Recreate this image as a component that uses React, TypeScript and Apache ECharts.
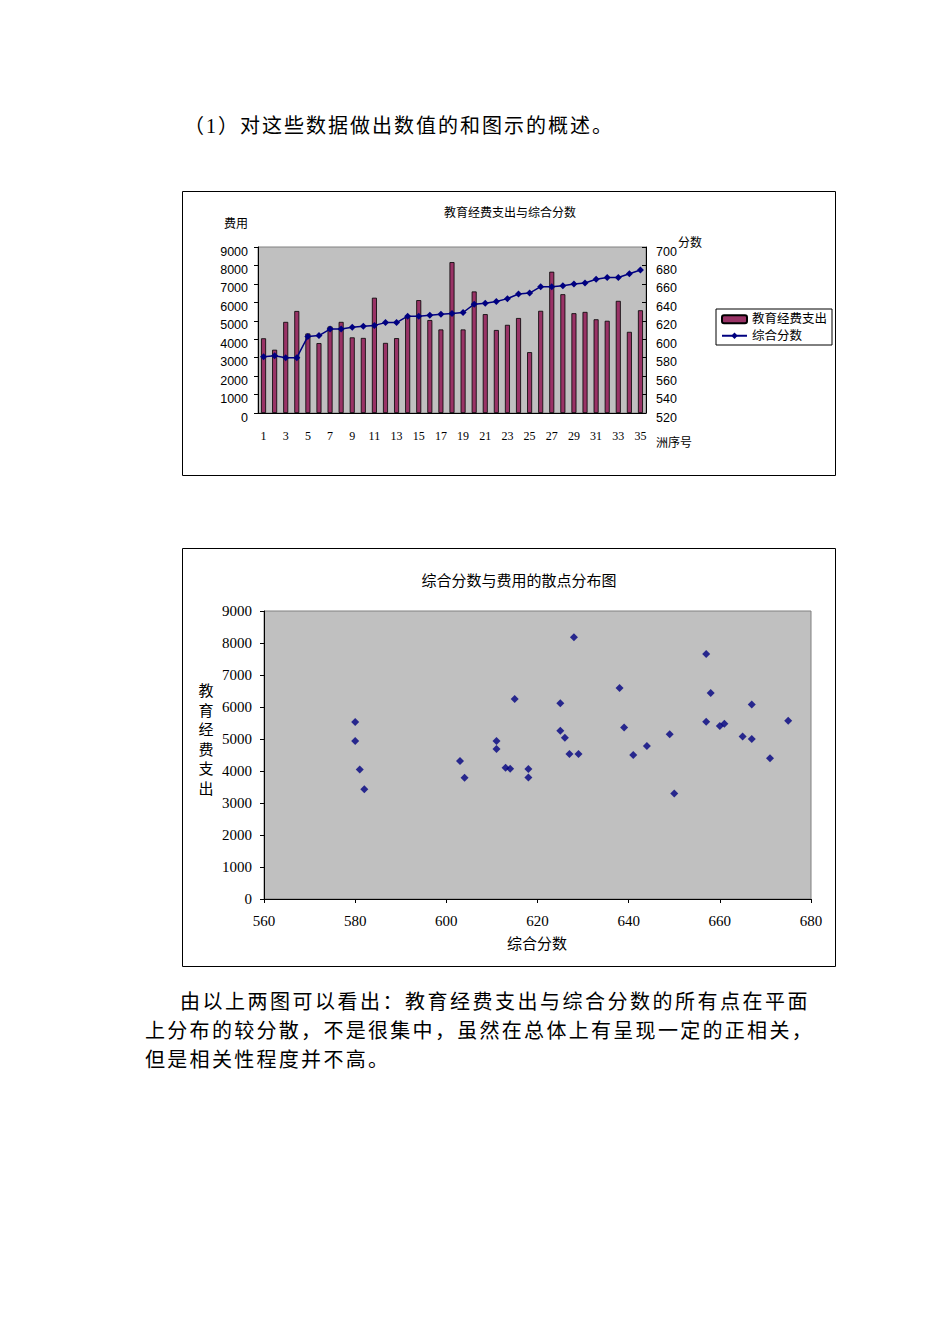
import React, { useEffect, useRef } from "react";
import * as echarts from "echarts";

const indices = Array.from({ length: 35 }, (_, i) => String(i + 1));
const expenses = [
  4050, 3430, 4940, 5530, 4310, 3790, 4690, 4940, 4100, 4070,
  6250, 3800, 4060, 5260, 6120, 5040, 4530, 8180, 4530, 6590,
  5360, 4500, 4780, 5150, 3300, 5540, 7660, 6440, 5410, 5480,
  5080, 5000, 6080, 4400, 5570,
];
const scores = [
  581, 582, 580, 580, 603, 604, 611, 611, 613, 614,
  615, 618, 618, 625, 625, 626, 627, 628, 629, 638,
  639, 641, 644, 649, 650, 657, 657, 658, 660, 661,
  665, 667, 667, 671, 675,
];

const CJK = "'Liberation Serif', 'Noto Sans CJK SC', serif";
const SANS = "'Liberation Sans', Arial, sans-serif";
const plain = (v: number) => String(v);

export default function App() {
  const ref = useRef<HTMLDivElement>(null);
  useEffect(() => {
    if (!ref.current) return;
    const chart = echarts.init(ref.current, undefined, { renderer: "svg" });
    const scatterData = scores.map((s, i) => [s, expenses[i]]);
    chart.setOption({
      animation: false,
      grid: [
        { left: 258, top: 247, width: 388, height: 166, show: true, backgroundColor: "#C0C0C0", borderColor: "#808080", borderWidth: 1 },
        { left: 264, top: 611, width: 547, height: 288, show: true, backgroundColor: "#C0C0C0", borderColor: "#808080", borderWidth: 1 },
      ],
      legend: {
        data: ["教育经费支出", "综合分数"],
        orient: "vertical",
        left: 716,
        top: 309,
        borderColor: "#000",
        borderWidth: 1,
        padding: [4, 5, 3, 5],
        itemGap: 4,
        itemWidth: 25,
        itemHeight: 8,
        textStyle: { fontSize: 12.5, fontFamily: CJK, color: "#000" },
      },
      xAxis: [
        {
          type: "category",
          gridIndex: 0,
          data: indices,
          axisLine: { lineStyle: { color: "#000" } },
          axisTick: { inside: true, length: 3, interval: 0, lineStyle: { color: "#000" } },
          axisLabel: { interval: 1, fontFamily: CJK, fontSize: 12, color: "#000", margin: 17 },
          splitLine: { show: false },
        },
        {
          type: "value",
          gridIndex: 1,
          min: 560,
          max: 680,
          interval: 20,
          axisLine: { lineStyle: { color: "#000" } },
          axisTick: { show: true, length: 4, lineStyle: { color: "#000" } },
          axisLabel: { fontFamily: CJK, fontSize: 15, color: "#000", margin: 14, formatter: plain },
          splitLine: { show: false },
        },
      ],
      yAxis: [
        {
          type: "value",
          gridIndex: 0,
          min: 0,
          max: 9000,
          interval: 1000,
          position: "left",
          axisLine: { show: true, lineStyle: { color: "#000" } },
          axisTick: { show: true, length: 4, lineStyle: { color: "#000" } },
          axisLabel: { fontFamily: SANS, fontSize: 12.5, color: "#000", margin: 10, verticalAlign: "top", lineHeight: 9, formatter: plain },
          splitLine: { show: false },
        },
        {
          type: "value",
          gridIndex: 0,
          min: 520,
          max: 700,
          interval: 20,
          position: "right",
          axisLine: { show: true, lineStyle: { color: "#000" } },
          axisTick: { show: true, inside: true, length: 4, lineStyle: { color: "#000" } },
          axisLabel: { fontFamily: SANS, fontSize: 12.5, color: "#000", margin: 10, verticalAlign: "top", lineHeight: 9, formatter: plain },
          splitLine: { show: false },
        },
        {
          type: "value",
          gridIndex: 1,
          min: 0,
          max: 9000,
          interval: 1000,
          axisLine: { show: true, lineStyle: { color: "#000" } },
          axisTick: { show: true, length: 4, lineStyle: { color: "#000" } },
          axisLabel: { fontFamily: CJK, fontSize: 15, color: "#000", margin: 12, formatter: plain },
          splitLine: { show: false },
        },
      ],
      series: [
        {
          name: "教育经费支出",
          type: "bar",
          xAxisIndex: 0,
          yAxisIndex: 0,
          data: expenses,
          barWidth: 5,
          itemStyle: { color: "#993366", borderColor: "#000", borderWidth: 0.8 },
        },
        {
          name: "综合分数",
          type: "line",
          xAxisIndex: 0,
          yAxisIndex: 1,
          data: scores,
          symbol: "diamond",
          symbolSize: 7,
          itemStyle: { color: "#000080" },
          lineStyle: { color: "#000080", width: 1.5 },
        },
        {
          name: "散点",
          type: "scatter",
          xAxisIndex: 1,
          yAxisIndex: 2,
          data: scatterData,
          symbol: "diamond",
          symbolSize: 8,
          itemStyle: { color: "#000080" },
        },
      ],
      graphic: [
        { type: "rect", shape: { x: 182.5, y: 191.5, width: 653, height: 284 }, style: { fill: "none", stroke: "#000", lineWidth: 1 } },
        { type: "rect", shape: { x: 182.5, y: 548.5, width: 653, height: 418 }, style: { fill: "none", stroke: "#000", lineWidth: 1 } },
        { type: "text", x: 510, y: 213, style: { text: "教育经费支出与综合分数", fontSize: 12, fontFamily: CJK, fill: "#000", align: "center", verticalAlign: "middle" } },
        { type: "text", x: 236, y: 224, style: { text: "费用", fontSize: 12, fontFamily: CJK, fill: "#000", align: "center", verticalAlign: "middle" } },
        { type: "text", x: 690, y: 243, style: { text: "分数", fontSize: 12, fontFamily: CJK, fill: "#000", align: "center", verticalAlign: "middle" } },
        { type: "text", x: 674, y: 443, style: { text: "洲序号", fontSize: 12, fontFamily: CJK, fill: "#000", align: "center", verticalAlign: "middle" } },
        { type: "text", x: 519, y: 581, style: { text: "综合分数与费用的散点分布图", fontSize: 15, fontFamily: CJK, fill: "#000", align: "center", verticalAlign: "middle" } },
        { type: "text", x: 537, y: 944, style: { text: "综合分数", fontSize: 15, fontFamily: CJK, fill: "#000", align: "center", verticalAlign: "middle" } },
        { type: "text", x: 206, y: 740, style: { text: "教\n育\n经\n费\n支\n出", fontSize: 15, lineHeight: 19.6, fontFamily: CJK, fill: "#000", align: "center", verticalAlign: "middle" } },
      ],
    });
    return () => chart.dispose();
  }, []);

  const textBase: React.CSSProperties = {
    position: "absolute",
    fontFamily: CJK,
    fontSize: 20,
    color: "#000",
    whiteSpace: "nowrap",
    lineHeight: "29px",
    margin: 0,
  };

  return (
    <div style={{ position: "absolute", left: 0, top: 0, width: 950, height: 1344, background: "#fff" }}>
      <div ref={ref} style={{ position: "absolute", left: 0, top: 0, width: 950, height: 1344 }} />
      <div style={{ ...textBase, left: 184, top: 111.5, letterSpacing: "2px" }}>（1）对这些数据做出数值的和图示的概述。</div>
      <div style={{ ...textBase, left: 180, top: 987.5, letterSpacing: "2.5px" }}>由以上两图可以看出：教育经费支出与综合分数的所有点在平面</div>
      <div style={{ ...textBase, left: 145, top: 1016.5, letterSpacing: "2.3px" }}>上分布的较分散，不是很集中，虽然在总体上有呈现一定的正相关，</div>
      <div style={{ ...textBase, left: 145, top: 1045.5, letterSpacing: "2.3px" }}>但是相关性程度并不高。</div>
    </div>
  );
}
